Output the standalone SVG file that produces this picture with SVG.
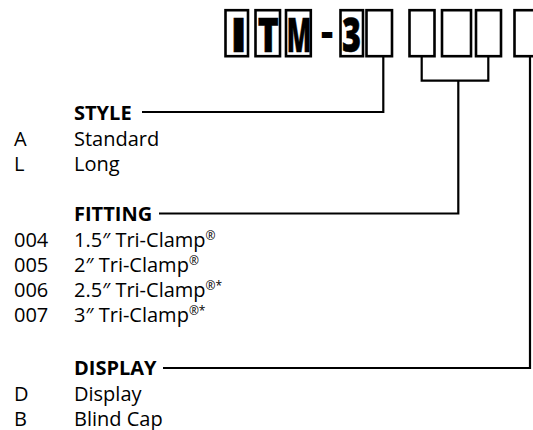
<svg xmlns="http://www.w3.org/2000/svg" width="533" height="430" viewBox="0 0 533 430">
<style>
  .box { fill: #fff; stroke: #000; stroke-width: 2.6; }
  .big { font-family: "Open Sans", "Liberation Sans", sans-serif; font-weight: 800; font-size: 48px; fill: #000; stroke: #000; stroke-width: 0.6; }
  .dash { font-family: "Open Sans", "Liberation Sans", sans-serif; font-weight: 800; font-size: 38px; fill: #000; }
  .hd { font-family: "Open Sans", "DejaVu Sans", sans-serif; font-weight: 700; font-size: 20px; fill: #000; }
  .tx { font-family: "Open Sans", "DejaVu Sans", sans-serif; font-weight: 400; font-size: 20px; fill: #000; }
  .sup { font-size: 12px; }
  .conn { fill: none; stroke: #000; stroke-width: 2.2; stroke-linejoin: miter; stroke-linecap: butt; }
</style>
<rect width="533" height="430" fill="#fff"/>
<g id="model-code">
  <rect class="box" x="225.5" y="10.2" width="22.5" height="46"/>
  <rect class="box" x="255.5" y="10.2" width="24.5" height="46"/>
  <rect class="box" x="286" y="10.2" width="24.8" height="46"/>
  <rect class="box" x="340.5" y="10.2" width="22.5" height="46"/>
  <rect class="box" x="366.5" y="10.2" width="25.5" height="46"/>
  <rect class="box" x="409.5" y="10.2" width="25" height="46"/>
  <rect class="box" x="442" y="10.2" width="29" height="46"/>
  <rect class="box" x="476" y="10.2" width="25" height="46"/>
  <rect class="box" x="514.5" y="10.2" width="31" height="46"/>
  <text class="big" x="238.7" y="51.5" text-anchor="middle">I</text>
  <text class="big" x="257.8" y="51.5" textLength="21" lengthAdjust="spacingAndGlyphs">T</text>
  <text class="big" x="286.8" y="51.5" textLength="24.5" lengthAdjust="spacingAndGlyphs">M</text>
  <text class="dash" x="327" y="46" text-anchor="middle">-</text>
  <text class="big" x="342" y="51.5" textLength="19" lengthAdjust="spacingAndGlyphs">3</text>
</g>
<g id="connectors">
  <path class="conn" d="M142,112 H383.3 V56"/>
  <path class="conn" d="M159,213.5 H458.3 V80.7"/>
  <path class="conn" d="M421.7,56 V80.7 H488.3 V56"/>
  <path class="conn" d="M163,368 H530 V56"/>
</g>
<g id="style">
  <text class="hd" x="74" y="119.5">STYLE</text>
  <text class="tx" x="14" y="145.5">A</text>
  <text class="tx" x="74" y="145.5">Standard</text>
  <text class="tx" x="14" y="171">L</text>
  <text class="tx" x="74" y="171">Long</text>
</g>
<g id="fitting">
  <text class="hd" x="74" y="220.5">FITTING</text>
  <text class="tx" x="14" y="246.5">004</text>
  <text class="tx" x="74" y="246.5">1.5″ Tri-Clamp<tspan class="sup" dy="-7">®</tspan></text>
  <text class="tx" x="14" y="271.5">005</text>
  <text class="tx" x="74" y="271.5">2″ Tri-Clamp<tspan class="sup" dy="-7">®</tspan></text>
  <text class="tx" x="14" y="296.5">006</text>
  <text class="tx" x="74" y="296.5">2.5″ Tri-Clamp<tspan class="sup" dy="-7">®*</tspan></text>
  <text class="tx" x="14" y="321.5">007</text>
  <text class="tx" x="74" y="321.5">3″ Tri-Clamp<tspan class="sup" dy="-7">®*</tspan></text>
</g>
<g id="display">
  <text class="hd" x="74" y="375">DISPLAY</text>
  <text class="tx" x="14" y="401">D</text>
  <text class="tx" x="74" y="401">Display</text>
  <text class="tx" x="14" y="425.5">B</text>
  <text class="tx" x="74" y="425.5">Blind Cap</text>
</g>
</svg>
